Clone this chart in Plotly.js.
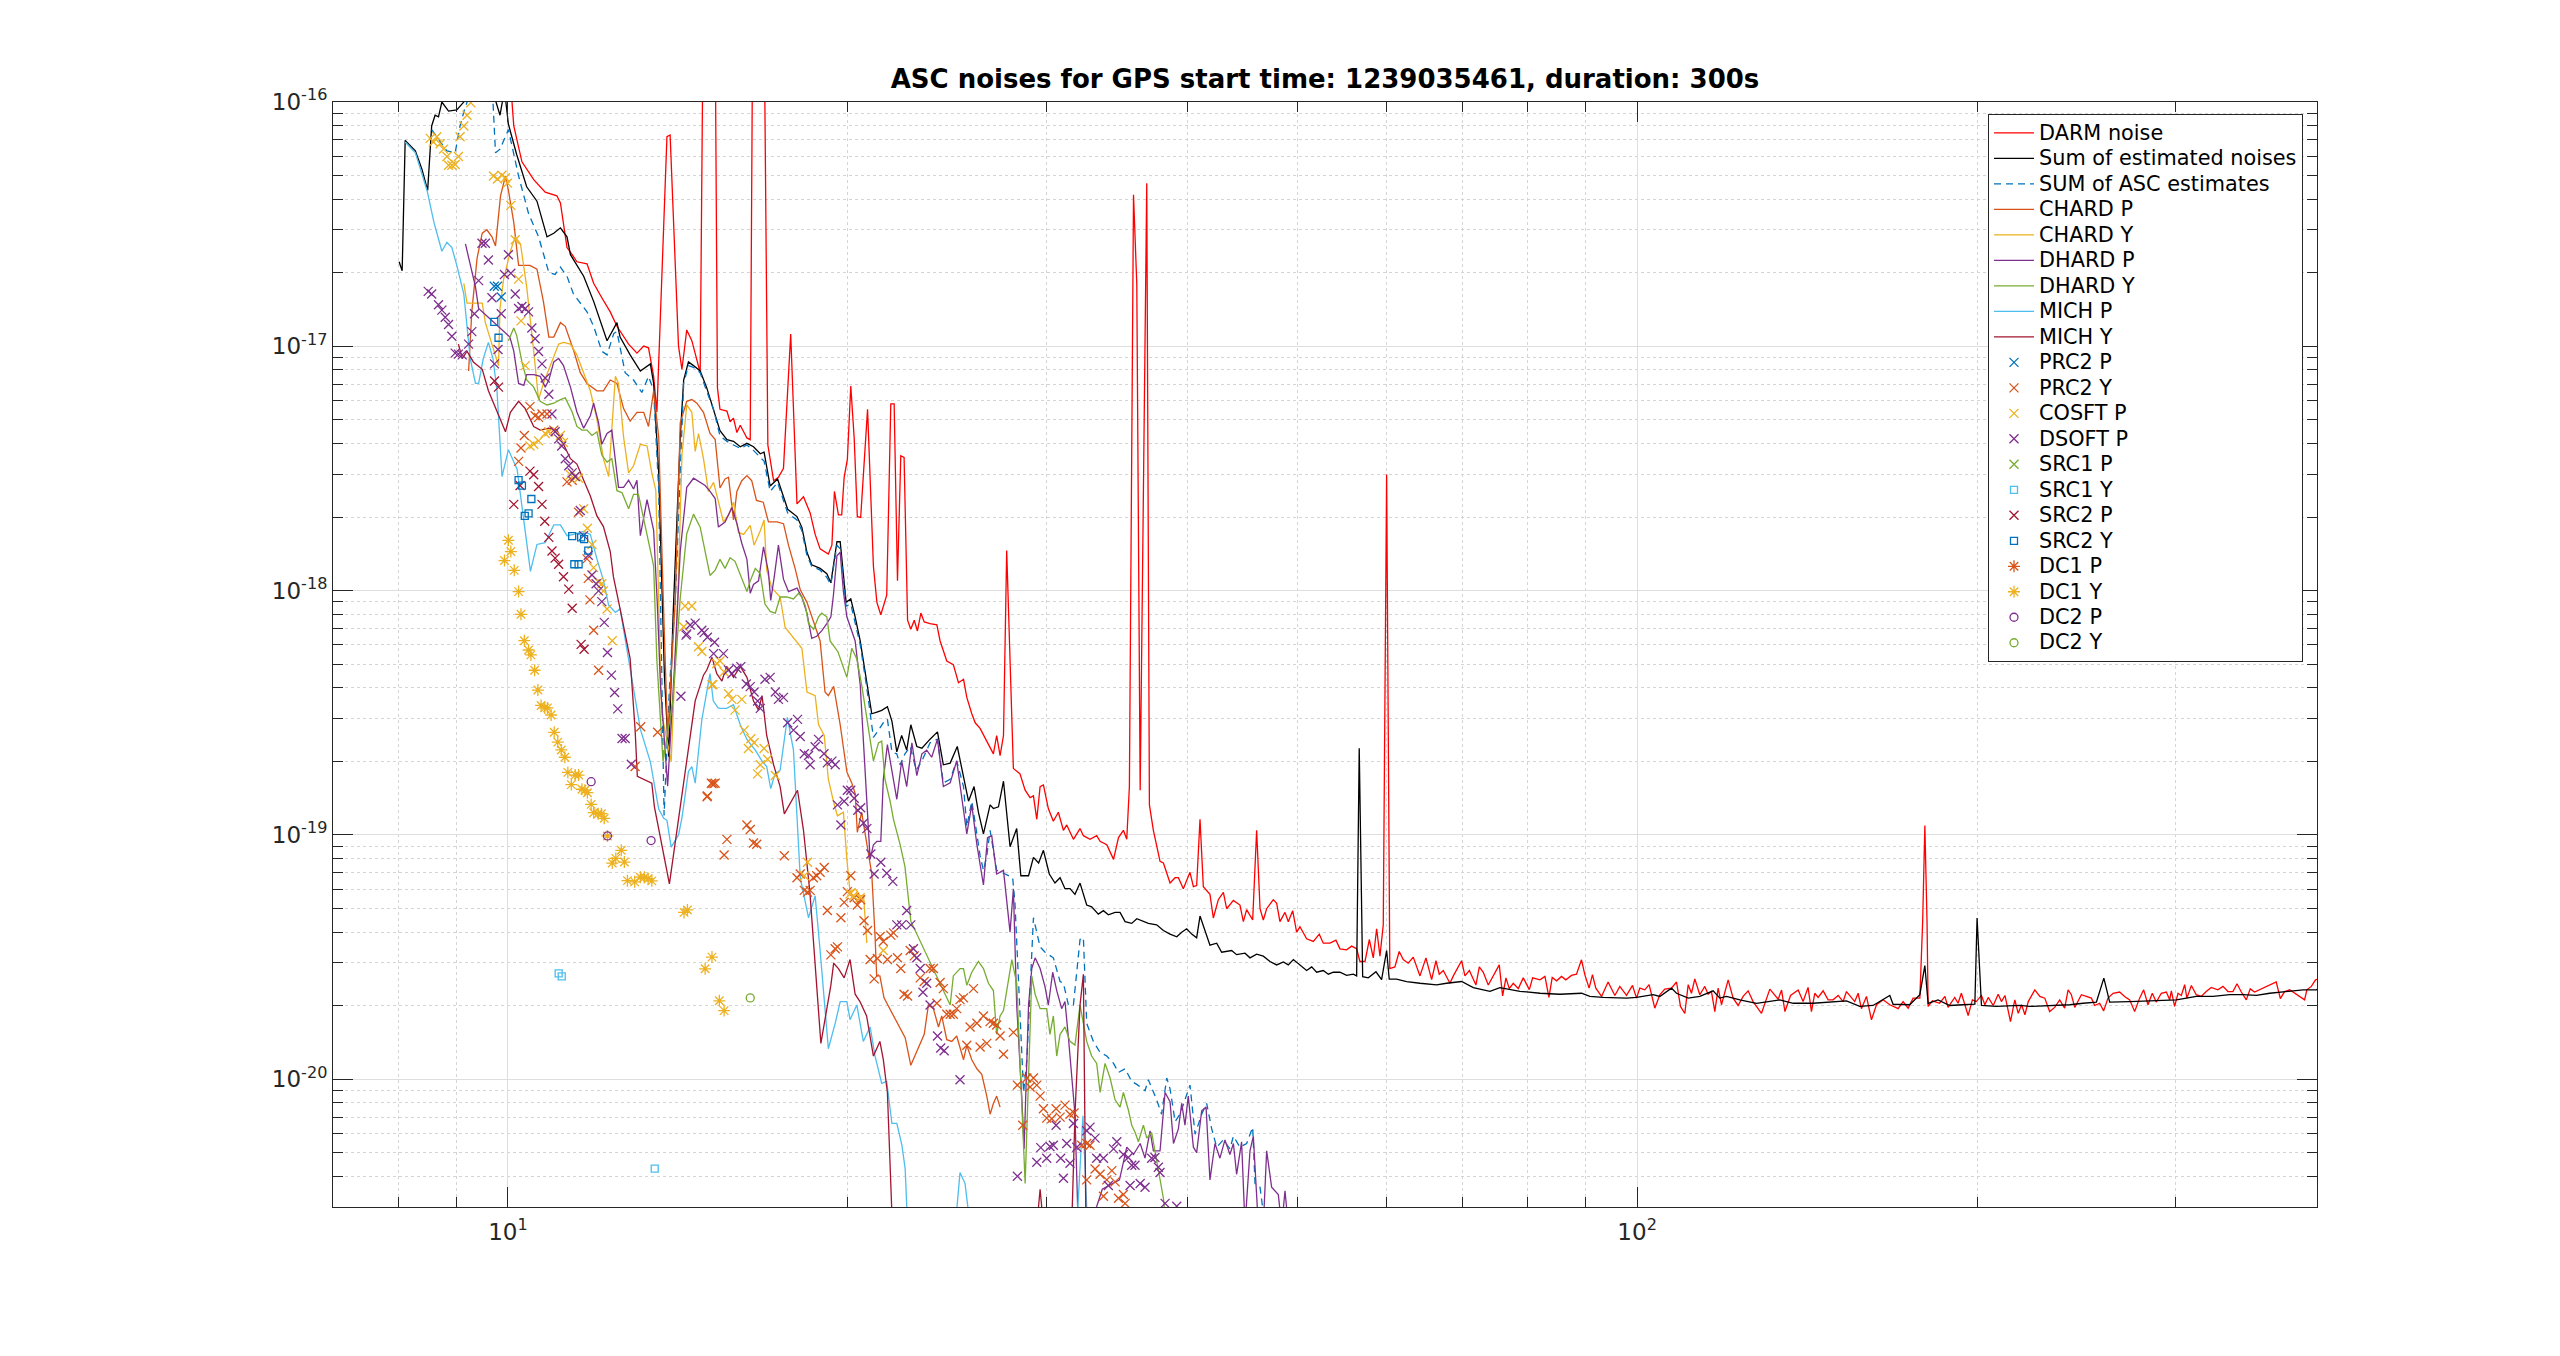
<!DOCTYPE html>
<html>
<head>
<meta charset="utf-8">
<script src="https://cdn.plot.ly/plotly-3.0.1.min.js"></script>
<style>html,body{margin:0;padding:0;background:#fff;}#plot{width:2560px;height:1356px;}</style>
</head>
<body>
<div id="plot"></div>
<script>
// ---- Data: frequency [Hz] and log10 of ASD values ----
const darmF = [9.9,10.12,10.29,10.54,10.79,11.05,11.13,11.28,11.40,11.51,11.75,11.91,12.11,12.32,12.49,12.79,13.01,13.19,13.32,13.46,13.55,13.83,13.92,14.16,14.26,14.40,14.55,14.80,14.90,15.25,15.33,15.41,15.63,15.73,15.84,15.95,16.06,16.28,16.39,16.48,16.85,16.99,17.19,17.36,17.54,17.80,18.03,18.27,18.52,18.71,18.90,19.22,19.36,19.46,19.62,19.75,19.85,19.98,20.12,20.26,20.39,20.53,20.82,21.07,21.22,21.39,21.65,21.83,21.98,22.13,22.28,22.43,22.59,22.74,22.90,23.05,23.21,23.37,23.65,23.98,24.14,24.47,24.80,25.06,25.32,25.49,25.75,25.93,26.19,26.55,26.91,27.09,27.28,27.47,27.65,28.03,28.41,28.71,29.00,29.20,29.40,29.60,29.80,30.10,30.41,30.72,31.04,31.25,31.68,32.11,32.33,32.77,33.22,33.45,33.91,34.38,34.73,35.08,35.32,35.51,35.81,36.05,36.30,36.79,36.99,37.29,37.80,38.06,38.58,38.98,39.24,39.64,40.18,40.46,40.73,41.01,41.29,41.85,42.14,42.57,43.01,43.30,43.90,44.49,44.80,45.10,45.66,46.03,46.35,46.66,46.98,47.62,47.95,48.27,48.77,49.10,49.54,49.94,50.28,50.97,51.67,52.30,52.73,53.45,54.11,54.55,55.30,55.87,56.44,56.82,57.41,57.92,58.39,58.79,59.19,59.59,60.00,60.39,61.02,61.56,62.07,62.70,63.35,64.22,65.01,65.77,66.35,66.80,67.35,68.27,68.74,69.91,70.39,71.02,71.99,72.48,73.07,73.82,75.49,76.01,76.53,77.05,77.68,78.48,79.28,80.26,80.81,82.03,82.86,83.54,84.10,84.85,85.71,86.47,87.47,88.37,89.27,89.88,90.67,91.29,91.92,93.00,94.25,95.56,96.53,97.86,99.06,99.87,100.55,101.57,102.47,103.67,104.73,105.80,107.25,108.36,109.24,110.21,110.97,111.72,112.48,113.63,114.79,115.57,116.36,117.16,117.96,118.77,120.39,121.62,122.87,124.12,125.40,126.67,128.86,131.07,133.32,134.24,135.17,136.73,138.87,140.27,141.70,142.68,143.65,144.63,146.12,147.62,149.12,150.66,152.20,153.25,155.85,156.93,157.98,159.62,161.26,162.91,165.14,167.40,170.27,172.00,173.78,175.54,177.97,179.0,179.8,180.6,181.0,182.6,184.7,185.3,187.3,188.5,191.1,192.4,193.7,195.0,196.4,198.1,199.7,201.8,203.2,204.6,206.7,208.8,210.2,211.7,214.1,216.0,217.5,219.0,220.5,222.0,225.0,227.3,229.6,231.9,234.3,236.7,239.1,240.8,242.4,244.1,247.4,249.9,252.5,254.2,256.8,258.9,261.2,263.9,267.5,270.2,273.0,275.8,278.6,280.9,283.4,285.9,288.2,291.2,294.2,296.2,297.2,299.2,301.3,303.3,305.4,306.8,309.6,312.7,315.9,319.1,322.4,326.8,330.2,333.6,337.0,339.8,342.8,346.3,349.1,352.2,355.8,359.5,363.2,366.9,368.1,371.2,374.4,378.3,382.1,386.0,390.0,391.8,395.4,398.8,401];
const darmV = [-15.5,-16.098,-16.245,-16.318,-16.369,-16.384,-16.413,-16.596,-16.625,-16.654,-16.662,-16.742,-16.801,-16.859,-16.918,-16.991,-17.028,-16.999,-17.006,-17.123,-17.269,-16.142,-16.135,-16.999,-17.094,-16.933,-16.977,-17.108,-15.5,-15.5,-17.17,-17.258,-17.265,-17.309,-17.294,-17.353,-17.323,-17.375,-17.382,-15.5,-15.5,-17.404,-17.55,-17.536,-17.499,-16.95,-17.645,-17.616,-17.682,-17.77,-17.829,-17.85,-17.814,-17.594,-17.69,-17.69,-17.536,-17.463,-17.163,-17.375,-17.697,-17.70,-17.258,-17.90,-18.048,-18.099,-18.019,-17.236,-17.236,-17.96,-17.448,-17.455,-18.121,-18.158,-18.121,-18.165,-18.092,-18.128,-18.135,-18.14,-18.206,-18.288,-18.303,-18.377,-18.363,-18.437,-18.504,-18.541,-18.564,-18.616,-18.668,-18.593,-18.675,-18.593,-17.836,-18.728,-18.75,-18.817,-18.847,-18.84,-18.936,-18.802,-18.795,-18.892,-18.944,-18.907,-18.981,-18.959,-19.018,-18.974,-19.003,-19.018,-19.003,-19.026,-19.04,-19.10,-19.011,-18.981,-19.018,-18.802,-16.38,-16.745,-18.817,-16.333,-18.877,-18.981,-19.108,-19.115,-19.197,-19.175,-19.175,-19.22,-19.153,-19.212,-19.207,-18.936,-19.212,-19.243,-19.34,-19.265,-19.235,-19.302,-19.268,-19.287,-19.355,-19.306,-19.348,-18.981,-19.302,-19.348,-19.302,-19.265,-19.28,-19.355,-19.317,-19.355,-19.31,-19.398,-19.376,-19.425,-19.436,-19.406,-19.443,-19.443,-19.431,-19.466,-19.47,-19.455,-19.466,-19.518,-19.518,-19.428,-19.503,-19.384,-19.496,-19.368,-17.525,-19.547,-19.54,-19.477,-19.51,-19.525,-19.50,-19.577,-19.503,-19.592,-19.515,-19.57,-19.555,-19.607,-19.577,-19.515,-19.577,-19.555,-19.614,-19.54,-19.562,-19.614,-19.532,-19.659,-19.585,-19.629,-19.607,-19.629,-19.585,-19.633,-19.585,-19.593,-19.579,-19.665,-19.583,-19.597,-19.579,-19.593,-19.575,-19.57,-19.511,-19.572,-19.627,-19.572,-19.627,-19.661,-19.602,-19.657,-19.62,-19.657,-19.616,-19.668,-19.627,-19.634,-19.613,-19.709,-19.654,-19.631,-19.627,-19.602,-19.702,-19.731,-19.613,-19.648,-19.589,-19.654,-19.62,-19.652,-19.641,-19.723,-19.627,-19.695,-19.593,-19.668,-19.698,-19.661,-19.638,-19.682,-19.73,-19.631,-19.672,-19.635,-19.723,-19.657,-19.635,-19.682,-19.624,-19.723,-19.648,-19.665,-19.638,-19.675,-19.675,-19.657,-19.682,-19.641,-19.682,-19.648,-19.711,-19.661,-19.757,-19.695,-19.675,-19.695,-19.711,-19.682,-19.709,-19.668,-19.668,-19.354,-18.961,-19.354,-19.702,-19.679,-19.689,-19.689,-19.661,-19.706,-19.665,-19.689,-19.648,-19.689,-19.739,-19.675,-19.682,-19.657,-19.695,-19.665,-19.698,-19.652,-19.682,-19.657,-19.764,-19.675,-19.73,-19.695,-19.736,-19.682,-19.634,-19.661,-19.668,-19.723,-19.706,-19.675,-19.709,-19.634,-19.654,-19.706,-19.654,-19.661,-19.668,-19.698,-19.689,-19.72,-19.668,-19.648,-19.643,-19.661,-19.675,-19.723,-19.668,-19.634,-19.695,-19.648,-19.684,-19.648,-19.643,-19.675,-19.638,-19.702,-19.648,-19.657,-19.613,-19.668,-19.616,-19.654,-19.661,-19.641,-19.624,-19.634,-19.62,-19.641,-19.641,-19.609,-19.643,-19.675,-19.63,-19.643,-19.634,-19.624,-19.613,-19.606,-19.602,-19.67,-19.641,-19.634,-19.648,-19.661,-19.675,-19.634,-19.62,-19.593,-19.59];

const sumF = [8.01,8.06,8.11,8.28,8.39,8.49,8.56,8.62,8.68,8.74,8.86,9.01,9.14,9.45,9.76,9.84,9.93,10.01,10.18,10.39,10.61,10.83,10.98,11.13,11.28,11.36,11.67,11.91,12.24,12.49,12.57,12.83,13.10,13.37,13.46,13.60,13.76,13.88,14.00,14.21,14.31,14.45,14.60,14.80,15.00,15.16,15.41,15.63,15.84,16.06,16.28,16.50,16.73,16.86,17.07,17.33,17.54,17.69,18.03,18.21,18.40,18.58,18.90,19.16,19.32,19.56,19.69,19.93,20.12,20.30,20.51,20.79,21.00,21.22,21.43,21.68,21.88,22.10,22.32,22.55,22.74,23.02,23.26,23.65,24.01,24.30,24.64,25.00,25.32,25.58,25.87,26.10,26.37,26.73,26.91,27.19,27.47,27.84,28.22,28.46,28.91,29.20,29.51,29.80,30.16,30.51,30.83,31.14,31.46,31.78,32.11,32.55,32.88,33.33,33.68,34.02,34.49,34.84,35.20,35.68,36.05,36.54,36.91,37.54,38.06,38.58,39.11,39.51,39.91,40.32,40.73,41.01,41.43,41.85,42.43,42.86,43.74,44.19,44.95,45.41,46.03,46.66,47.30,47.95,48.61,49.10,49.61,50.28,50.97,51.50,52.02,52.73,53.28,53.82,54.55,55.30,56.06,56.44,56.74,57.14,57.80,58.71,59.39,60.00,60.32,61.23,62.49,64.22,66.44,67.80,69.91,71.60,74.07,75.59,77.15,78.75,82.03,85.42,89.27,90.80,93.30,97.85,99.87,103.32,104.73,107.25,108.36,110.97,113.63,116.76,118.36,119.98,123.30,127.56,133.77,137.46,143.18,149.12,153.25,157.44,161.78,167.40,168.52,174.33,177.97,179.80,181.00,184.70,189.2,194.4,199.1,200.0,201.8,208.0,218.2,222.7,231.9,241.6,248.3,255.1,259.0,262.1,273.0,284.4,292.2,300.3,306.5,312.7,323.6,334.8,344.0,353.5,363.2,373.3,383.5,388.8,399.4,401];
const sumV = [-16.654,-16.691,-16.157,-16.2,-16.274,-16.362,-16.098,-16.054,-16.061,-16.0,-16.037,-16.032,-16.0,-15.85,-16.0,-16.054,-15.95,-16.091,-16.215,-16.347,-16.406,-16.552,-16.537,-16.515,-16.552,-16.625,-16.713,-16.816,-16.977,-16.903,-16.962,-17.035,-17.101,-17.072,-17.152,-17.518,-18.35,-18.68,-18.12,-17.372,-17.138,-17.064,-17.079,-17.101,-17.17,-17.236,-17.345,-17.382,-17.389,-17.411,-17.397,-17.411,-17.44,-17.433,-17.572,-17.543,-17.616,-17.667,-17.697,-17.741,-17.843,-17.894,-17.909,-17.931,-17.968,-17.80,-17.80,-18.048,-18.034,-18.107,-18.206,-18.384,-18.504,-18.497,-18.49,-18.475,-18.534,-18.66,-18.593,-18.653,-18.549,-18.638,-18.645,-18.608,-18.578,-18.713,-18.706,-18.638,-18.757,-18.862,-18.802,-18.907,-18.996,-18.877,-18.892,-18.885,-18.78,-19.048,-18.974,-19.167,-19.167,-19.092,-19.115,-19.063,-19.16,-19.197,-19.175,-19.22,-19.22,-19.243,-19.197,-19.287,-19.294,-19.324,-19.31,-19.327,-19.317,-19.317,-19.355,-19.362,-19.343,-19.355,-19.362,-19.368,-19.391,-19.406,-19.417,-19.398,-19.384,-19.406,-19.421,-19.332,-19.391,-19.451,-19.443,-19.48,-19.473,-19.49,-19.484,-19.503,-19.488,-19.496,-19.518,-19.532,-19.52,-19.532,-19.51,-19.532,-19.555,-19.54,-19.562,-19.555,-19.57,-19.562,-19.562,-19.575,-19.57,-19.577,-18.645,-19.58,-19.585,-19.56,-19.592,-19.473,-19.59,-19.59,-19.60,-19.607,-19.614,-19.607,-19.60,-19.625,-19.64,-19.625,-19.633,-19.64,-19.648,-19.652,-19.648,-19.661,-19.665,-19.668,-19.665,-19.654,-19.661,-19.627,-19.648,-19.668,-19.661,-19.638,-19.668,-19.661,-19.675,-19.689,-19.675,-19.689,-19.689,-19.682,-19.679,-19.702,-19.698,-19.657,-19.693,-19.695,-19.654,-19.535,-19.689,-19.675,-19.698,-19.695,-19.693,-19.34,-19.698,-19.702,-19.698,-19.702,-19.698,-19.695,-19.689,-19.684,-19.586,-19.684,-19.682,-19.679,-19.679,-19.675,-19.668,-19.661,-19.661,-19.654,-19.654,-19.657,-19.648,-19.643,-19.638,-19.634,-19.634,-19.63];

const ascF = [8.56,8.65,8.83,8.98,9.07,9.14,9.20,9.45,9.70,9.75,9.84,10.01,10.22,10.43,10.645,10.87,11.01,11.13,11.28,11.43,11.75,11.91,12.11,12.24,12.41,12.49,12.70,12.92,13.14,13.32,13.46,13.60,13.75,13.90,14.07,14.31,14.45,14.60,14.80,15.00,15.21,15.41,15.63,15.84,16.06,16.28,16.50,16.73,16.86,17.07,17.33,17.54,17.69,18.03,18.21,18.40,18.58,18.90,19.16,19.32,19.56,19.69,19.93,20.12,20.30,20.51,20.79,21.07,21.29,21.50,21.68,21.88,22.10,22.25,22.47,22.71,22.99,23.26,23.65,24.01,24.30,24.64,24.97,25.32,25.49,25.75,25.93,26.19,26.37,26.55,26.73,26.91,27.09,27.37,27.99,28.12,28.41,28.62,28.81,29.00,29.20,29.60,29.90,30.41,30.83,31.04,31.36,31.68,32.11,32.33,32.55,33.00,33.45,33.91,34.38,34.73,35.20,35.68,36.05,36.66,36.91,37.54,37.92,38.32,38.58,38.98,39.37,39.77,40.18,40.60,41.15,41.57,42.00,42.43,43.01,43.59,43.90,44.49,45.10,45.66,45.88,46.35,46.82];
const ascV = [-16.113,-16.142,-16.2,-16.208,-16.098,-16.04,-16.0,-15.9,-16.0,-16.208,-16.193,-16.113,-16.303,-16.457,-16.552,-16.698,-16.706,-16.676,-16.713,-16.786,-16.859,-16.918,-17.02,-17.035,-16.947,-16.94,-17.108,-17.138,-17.189,-17.123,-17.18,-17.59,-18.92,-18.4,-18.03,-17.152,-17.079,-17.086,-17.108,-17.185,-17.258,-17.367,-17.389,-17.404,-17.418,-17.404,-17.426,-17.455,-17.47,-17.594,-17.557,-17.631,-17.682,-17.711,-17.755,-17.857,-17.90,-17.916,-17.946,-17.975,-17.814,-17.829,-18.063,-18.055,-18.135,-18.221,-18.399,-18.601,-18.571,-18.541,-18.526,-18.66,-18.668,-18.713,-18.668,-18.638,-18.735,-18.697,-18.623,-18.608,-18.787,-18.772,-18.697,-18.802,-18.966,-18.862,-18.951,-19.085,-19.145,-19.085,-18.981,-19.07,-19.145,-19.153,-19.175,-19.279,-19.696,-20.054,-19.92,-19.622,-19.339,-19.458,-19.48,-19.503,-19.60,-19.607,-19.696,-19.696,-19.428,-19.42,-19.771,-19.846,-19.89,-19.905,-19.935,-19.972,-19.957,-20.009,-20.021,-20.047,-20.002,-20.084,-20.143,-19.995,-20.039,-20.173,-20.143,-20.084,-20.024,-20.225,-20.143,-20.099,-20.203,-20.278,-20.248,-20.285,-20.233,-20.278,-20.263,-20.196,-20.427,-20.442,-20.6];

const chardPF = [9.23,9.29,9.39,9.49,9.58,9.68,9.75,9.85,9.95,10.01,10.12,10.22,10.33,10.46,10.61,10.75,10.87,10.98,11.13,11.24,11.44,11.59,11.75,11.99,12.15,12.32,12.49,12.66,12.83,13.01,13.19,13.32,13.46,13.60,13.72,13.85,14.07,14.21,14.40,14.55,14.70,14.90,15.10,15.26,15.41,15.57,15.68,15.84,15.95,16.11,16.28,16.44,16.60,16.83,17.01,17.31,17.54,17.72,17.96,18.15,18.40,18.64,18.90,19.09,19.22,19.43,19.69,19.96,20.16,20.30,20.39,20.57,20.78,21.00,21.14,21.21,21.35,21.53,22.48,22.74,23.37,23.57,23.81,24.06,24.22,24.47,24.72,24.97,25.32,25.49,25.75,26.02,26.28,26.55,26.73,26.91,27.09,27.28];
const chardPV = [-17.101,-16.859,-16.64,-16.537,-16.523,-16.552,-16.589,-16.384,-16.303,-16.362,-16.493,-16.669,-16.669,-16.669,-16.684,-16.816,-16.962,-16.962,-16.903,-16.918,-17.02,-17.108,-17.152,-17.182,-17.182,-17.138,-17.152,-17.255,-17.306,-17.27,-17.27,-17.328,-17.182,-17.372,-18.0,-18.6,-18.03,-17.313,-17.225,-17.218,-17.233,-17.27,-17.357,-17.382,-17.58,-17.543,-17.536,-17.711,-17.594,-17.55,-17.529,-17.55,-17.631,-17.638,-17.719,-17.719,-17.726,-17.814,-17.909,-17.997,-18.048,-18.121,-18.206,-18.415,-18.43,-18.392,-18.549,-18.742,-18.787,-18.83,-18.989,-18.907,-19.04,-19.16,-19.413,-19.577,-19.577,-19.667,-19.83,-19.943,-19.816,-19.696,-19.711,-19.786,-19.741,-19.838,-19.845,-19.823,-19.92,-19.861,-19.92,-19.957,-19.98,-20.069,-20.143,-20.099,-20.069,-20.114];

const chardYF = [9.14,9.20,9.32,9.49,9.55,9.81,9.84,9.91,10.05,10.15,10.26,10.39,10.54,10.645,10.75,10.90,11.09,11.20,11.36,11.51,11.67,11.83,11.99,12.15,12.28,12.45,12.53,12.66,12.79,12.92,13.10,13.28,13.41,13.52,13.68,13.95,14.16,14.26,14.40,14.55,14.65,14.75,14.90,15.05,15.21,15.36,15.52,15.68,15.84,16.00,16.17,16.39,16.52,16.73,16.86,16.95,17.13,17.42,17.60,18.21,18.40,18.71,18.84,19.06,19.22,19.42,19.58,19.82,19.96,20.09,20.30,20.51,20.65,20.79];
const chardYV = [-16.742,-16.823,-16.823,-16.823,-16.903,-17.079,-16.845,-16.728,-16.611,-16.552,-16.581,-16.757,-17.02,-17.218,-17.152,-17.079,-16.991,-16.984,-16.991,-17.035,-17.108,-17.182,-17.299,-17.46,-17.533,-17.123,-17.152,-17.372,-17.518,-17.489,-17.401,-17.408,-17.518,-17.59,-18.5,-18.7,-17.943,-17.445,-17.24,-17.27,-17.43,-17.357,-17.46,-17.594,-17.557,-17.638,-17.719,-17.69,-17.638,-17.762,-17.77,-17.733,-17.814,-17.755,-17.711,-17.916,-17.989,-18.026,-18.151,-18.236,-18.415,-18.43,-18.549,-18.593,-18.772,-18.862,-18.922,-18.907,-19.10,-19.234,-19.22,-19.249,-19.249,-19.443];

const dhardPF = [9.17,9.26,9.36,9.42,10.04,10.12,10.22,10.33,10.39,10.54,10.68,10.79,10.87,10.98,11.09,11.20,11.36,11.51,11.67,11.83,11.91,12.03,12.11,12.24,12.36,12.53,12.66,12.79,12.92,13.01,13.10,13.28,13.46,13.56,13.65,13.85,14.05,14.21,14.40,14.60,14.80,14.95,15.10,15.26,15.36,15.57,15.79,15.95,16.11,16.28,16.39,16.50,16.67,16.84,17.01,17.09,17.21,17.36,17.54,17.72,18.03,18.21,18.40,18.58,18.77,18.96,19.16,19.32,19.42,19.56,19.69,19.82,19.96,20.16,20.30,20.51,20.72,20.93,21.07,21.22,21.39,21.50,21.68,21.88,22.10,22.32,22.55,22.79,23.02,23.26,23.49,23.73,24.01,24.30,24.64,24.97,25.23,25.49,25.75,26.02,26.37,26.59,26.82,27.09,27.47,27.84,28.03,28.22,28.51,28.65,28.91,29.10,29.30,29.60,29.90,30.10,30.37,30.62,30.93,31.14,31.36,31.57,31.78,31.99,32.8,33.6,34.8,35.32,35.81,36.30,36.66,37.04,37.29,37.80,38.19,38.58,38.85,39.24,39.51,39.77,40.04,40.46,40.73,41.15,41.52,41.85,42.28,42.71,43.15,43.59,43.90,44.19,44.64,44.95,45.41,45.72,46.19,46.66,46.98,47.46,48.11,48.44,48.77,49.10];
const dhardPV = [-16.581,-16.669,-16.757,-16.845,-16.962,-17.02,-17.152,-17.16,-17.116,-17.116,-17.123,-17.167,-17.138,-17.064,-17.05,-17.079,-17.167,-17.269,-17.335,-17.284,-17.233,-17.313,-17.401,-17.357,-17.343,-17.577,-17.577,-17.548,-17.584,-17.548,-17.775,-17.628,-17.753,-18.05,-18.39,-18.8,-18.3,-17.84,-17.577,-17.54,-17.557,-17.57,-17.594,-17.623,-17.74,-17.719,-17.66,-17.726,-17.806,-17.872,-18.011,-17.975,-17.96,-17.821,-17.924,-18.04,-17.946,-17.814,-17.953,-18.004,-17.99,-18.026,-18.092,-18.195,-18.187,-18.165,-18.135,-18.107,-18.019,-17.857,-17.843,-18.004,-18.107,-18.165,-18.206,-18.385,-18.772,-19.10,-19.04,-19.026,-19.026,-18.772,-18.63,-18.742,-18.854,-18.697,-18.802,-18.623,-18.757,-18.668,-18.653,-18.682,-18.608,-18.802,-18.787,-18.697,-18.847,-18.996,-18.877,-19.04,-19.205,-19.011,-19.003,-19.16,-19.145,-19.398,-19.22,-19.696,-20.069,-20.285,-19.696,-19.547,-19.503,-19.547,-19.622,-19.696,-19.562,-19.637,-19.711,-19.682,-19.83,-19.995,-20.143,-20.6,-20.6,-20.45,-20.412,-20.278,-20.308,-20.263,-20.323,-20.211,-20.293,-20.293,-20.054,-20.092,-20.263,-20.203,-20.099,-20.188,-20.069,-20.278,-20.30,-20.129,-20.114,-20.412,-20.263,-20.323,-20.248,-20.308,-20.263,-20.389,-20.256,-20.6,-20.293,-20.233,-20.6,-20.6,-20.293,-20.442,-20.472,-20.6,-20.457,-20.6];

const dhardYF = [10.01,10.12,10.18,10.29,10.39,10.54,10.68,10.83,10.98,11.13,11.24,11.40,11.51,11.63,11.75,11.87,11.99,12.11,12.24,12.36,12.49,12.62,12.79,12.92,13.05,13.19,13.32,13.46,13.55,13.72,14.00,14.21,14.40,14.60,14.80,14.95,15.10,15.26,15.41,15.57,15.73,15.89,16.11,16.28,16.39,16.56,16.73,16.89,17.07,17.25,17.42,17.66,17.90,18.09,18.21,18.34,18.46,18.65,18.84,18.96,19.16,19.29,19.60,19.96,20.16,20.37,20.57,20.79,21.07,21.29,21.43,21.57,21.80,21.95,22.25,22.47,22.63,22.74,24.64,24.80,25.14,25.32,25.49,25.75,26.10,26.37,26.64,26.91,27.09,27.28,27.47,27.94,28.22,28.71,28.91,29.10,29.30,29.60,30.00,30.20,30.41,30.62,30.83,31.14,31.46,31.78,32.11,32.55,32.88,33.22,33.45,33.79,34.14,34.49,34.84,35.08,35.45,35.68,35.93,36.17,36.54,36.79,37.16,37.41,37.67,38.06,38.27];
const dhardYV = [-16.977,-16.925,-16.955,-17.064,-17.138,-17.167,-17.225,-17.24,-17.233,-17.218,-17.211,-17.269,-17.328,-17.343,-17.343,-17.365,-17.35,-17.445,-17.474,-17.46,-17.591,-17.599,-17.665,-17.606,-17.606,-17.709,-17.796,-17.899,-18.29,-18.7,-18.45,-18.03,-17.767,-17.687,-17.74,-17.843,-17.938,-17.916,-17.872,-17.909,-17.865,-17.88,-17.946,-18.004,-17.96,-17.909,-17.931,-18.055,-18.085,-18.092,-18.026,-18.026,-18.034,-18.011,-18.026,-18.063,-18.135,-18.158,-18.107,-18.092,-18.107,-18.206,-18.25,-18.355,-18.236,-18.28,-18.385,-18.519,-18.697,-18.623,-18.616,-18.772,-18.862,-18.936,-19.04,-19.13,-19.249,-19.353,-19.696,-19.577,-19.547,-19.547,-19.615,-19.562,-19.518,-19.547,-19.607,-19.637,-19.816,-19.741,-19.719,-19.51,-19.607,-20.427,-19.995,-19.577,-19.652,-19.711,-19.711,-19.816,-19.741,-19.905,-19.816,-19.786,-19.845,-19.86,-19.696,-19.845,-19.905,-19.935,-20.054,-19.935,-19.995,-20.084,-20.114,-20.054,-20.129,-20.188,-20.218,-20.256,-20.188,-20.241,-20.218,-20.293,-20.382,-20.487,-20.6];

const michPF = [8.11,8.28,8.48,8.60,8.74,8.83,8.92,9.01,9.14,9.26,9.36,9.42,9.51,9.61,9.70,9.78,9.88,10.01,10.19,10.31,10.47,10.61,10.79,10.98,11.13,11.28,11.44,11.67,11.83,11.99,12.15,12.28,12.45,12.57,12.63,12.92,13.10,13.37,13.60,13.74,13.83,13.95,14.16,14.26,14.45,14.55,14.65,14.85,15.10,15.20,15.35,15.41,15.62,15.84,16.06,16.28,16.56,16.79,16.95,17.09,17.24,17.42,17.68,17.90,18.15,18.46,18.71,18.90,19.22,19.49,19.69,19.96,20.09,20.37,20.64,20.93,21.14,21.43,21.65,21.88,22.10,22.33,22.48,22.59,24.9,25.14,25.40,25.66,31.9,32.3,32.6];
const michPV = [-16.164,-16.208,-16.362,-16.493,-16.611,-16.574,-16.596,-16.669,-16.786,-17.05,-17.152,-17.152,-17.05,-16.984,-17.05,-17.182,-17.533,-17.423,-17.504,-17.694,-17.921,-17.811,-17.804,-17.731,-17.731,-17.775,-17.77,-17.758,-17.77,-17.87,-17.958,-18.06,-18.089,-18.075,-18.133,-18.413,-18.567,-18.701,-18.894,-18.932,-18.94,-19.05,-19.0,-18.93,-18.74,-18.72,-18.788,-18.528,-18.34,-18.451,-18.48,-18.482,-18.482,-18.467,-18.549,-18.609,-18.653,-18.698,-18.72,-18.81,-18.75,-18.735,-18.519,-18.653,-19.175,-19.339,-19.249,-19.473,-19.875,-19.771,-19.682,-19.682,-19.756,-19.696,-19.845,-19.786,-19.905,-20.017,-20.009,-20.181,-20.181,-20.27,-20.367,-20.6,-20.6,-20.382,-20.427,-20.6,-20.6,-20.15,-20.6];

const michYF = [9.04,9.11,9.20,9.32,9.49,9.61,9.95,10.05,10.22,10.36,10.54,10.68,10.87,11.05,11.20,11.36,11.51,11.67,11.83,11.99,12.15,12.32,12.40,12.57,12.83,12.96,13.02,13.41,13.48,13.90,14.30,14.50,14.65,14.90,15.00,15.16,15.31,15.47,15.62,15.84,16.06,16.28,16.50,16.67,16.79,16.95,17.19,17.42,17.57,18.05,18.27,18.51,18.71,18.93,19.32,19.43,19.62,19.85,20.09,20.30,20.50,20.78,21.07,21.35,21.50,21.68,21.90,29.40,29.60,29.80,31.57,31.79,32.11,32.33,32.50];
const michYV = [-16.991,-17.05,-17.02,-17.064,-17.094,-17.182,-17.35,-17.27,-17.225,-17.255,-17.328,-17.343,-17.335,-17.343,-17.401,-17.46,-17.482,-17.548,-17.613,-17.694,-17.738,-17.84,-17.943,-18.075,-18.278,-18.567,-18.76,-18.788,-18.884,-19.2,-18.8,-18.586,-18.451,-18.346,-18.325,-18.273,-18.34,-18.37,-18.31,-18.355,-18.31,-18.355,-18.452,-18.489,-18.43,-18.593,-18.713,-18.802,-18.914,-18.817,-18.981,-19.234,-19.518,-19.853,-19.615,-19.525,-19.547,-19.585,-19.51,-19.652,-19.682,-19.741,-19.905,-19.845,-19.92,-20.054,-20.6,-20.6,-20.45,-20.6,-20.6,-20.129,-19.696,-19.57,-20.6];

// ---- Marker-only series ----
const prc2PF = [9.726,9.79,9.865];
const prc2PV = [-16.754,-16.754,-16.798];

const prc2YF = [10.46,10.57,10.645,10.72,10.83,10.98,10.34,10.27,10.22,11.28,11.40,11.55,11.75,11.78,11.82,11.91,12.03,12.96,13.11,13.57,15.02,15.14,15.26,15.01,15.16,15.22,15.54,15.63,16.28,16.39,16.50,16.61,17.57,18.03,18.15,18.30,18.42,18.52,18.64,18.77,18.90,19.06,19.18,19.32,19.49,19.58,19.72,19.85,19.98,20.12,20.26,20.39,20.53,20.67,20.82,20.93,21.10,21.24,21.36,21.50,21.68,21.83,21.95,22.13,22.28,22.43,22.59,22.71,22.90,23.18,23.37,23.65,23.81,23.98,24.14,24.30,24.47,24.64,24.80,24.97,25.14,25.32,25.49,25.66,25.84,26.02,26.19,26.37,26.55,26.73,26.91,27.09,27.28,27.47,28.03,28.26,28.57,28.81,29.00,29.20,29.40,29.60,29.80,30.00,30.31,30.58,30.83,31.14,31.46,31.72,32.22,32.55,32.77,32.55,33.11,33.45,33.68,33.91,34.26,34.49,34.73,35.08,35.20];
const prc2YV = [-17.247,-17.284,-17.291,-17.277,-17.277,-17.343,-17.365,-17.416,-17.471,-17.555,-17.548,-17.679,-17.87,-17.95,-18.038,-18.162,-18.326,-18.72,-18.557,-18.58,-18.84,-18.788,-18.788,-18.844,-18.79,-18.79,-19.082,-19.018,-18.959,-18.978,-19.033,-19.038,-19.085,-19.175,-19.16,-19.227,-19.234,-19.227,-19.175,-19.167,-19.153,-19.133,-19.309,-19.491,-19.466,-19.458,-19.339,-19.276,-19.232,-19.167,-19.257,-19.287,-19.265,-19.351,-19.391,-19.51,-19.589,-19.506,-19.416,-19.436,-19.51,-19.41,-19.401,-19.503,-19.547,-19.652,-19.659,-19.473,-19.495,-19.585,-19.60,-19.547,-19.547,-19.689,-19.604,-19.629,-19.734,-19.734,-19.734,-19.711,-19.674,-19.667,-19.861,-19.786,-19.629,-19.771,-19.868,-19.741,-19.853,-19.764,-19.771,-19.778,-19.823,-19.898,-19.808,-20.024,-20.188,-19.995,-20.032,-19.995,-20.024,-20.069,-20.121,-20.159,-20.162,-20.121,-20.155,-20.106,-20.143,-20.138,-20.27,-20.263,-20.27,-20.412,-20.367,-20.389,-20.479,-20.412,-20.374,-20.42,-20.487,-20.472,-20.508];

const cosftPF = [8.535,8.59,8.65,8.71,8.77,8.83,8.86,8.92,8.98,9.04,9.07,9.14,9.20,9.27,9.71,9.79,9.88,9.95,9.99,10.06,10.15,10.22,10.27,10.36,10.46,10.54,10.645,10.79,10.87,11.13,11.20,11.36,11.47,11.55,11.67,11.76,11.87,11.91,12.03,12.11,12.15,12.24,12.37,14.31,14.35,14.55,14.75,14.85,15.19,15.31,15.16,15.41,15.54,15.68,15.79,15.89,16.11,16.19,16.33,16.41,16.52,16.64,16.73,16.86,16.98,17.25,18.30,18.42,20.09,20.23,20.51,21.50];
const cosftPV = [-16.149,-16.164,-16.142,-16.171,-16.193,-16.223,-16.259,-16.259,-16.256,-16.223,-16.142,-16.098,-16.054,-16.003,-16.303,-16.315,-16.30,-16.31,-16.332,-16.423,-16.564,-16.725,-16.896,-17.079,-17.408,-17.401,-17.387,-17.357,-17.35,-17.365,-17.394,-17.526,-17.533,-17.54,-17.665,-17.745,-17.811,-17.906,-17.965,-17.972,-18.001,-18.075,-18.205,-18.148,-18.063,-18.063,-18.23,-18.249,-18.384,-18.298,-18.385,-18.288,-18.333,-18.422,-18.445,-18.489,-18.445,-18.571,-18.646,-18.606,-18.623,-18.75,-18.713,-18.646,-18.69,-18.757,-19.167,-19.112,-19.242,-19.249,-19.257,-19.473];

const dsoftPF = [8.50,8.56,8.68,8.74,8.80,8.86,8.92,8.98,9.04,9.11,9.23,9.29,9.34,9.42,9.485,9.55,9.61,9.68,9.73,9.80,9.865,9.93,10.01,10.06,10.15,10.22,10.29,10.36,10.43,10.50,10.57,10.645,10.72,10.79,10.87,10.94,11.01,11.09,11.16,11.24,11.32,11.40,11.47,11.59,11.67,11.78,11.87,11.97,12.03,12.11,12.17,12.25,12.35,12.43,12.51,12.62,12.70,12.86,14.23,14.38,14.40,14.50,14.65,14.85,14.92,15.02,15.24,15.21,15.52,15.68,15.79,15.95,16.08,16.26,16.39,16.52,16.64,16.73,16.89,17.07,17.25,17.36,17.54,17.69,17.90,18.05,18.15,18.30,18.46,18.52,18.71,18.84,19.05,19.18,19.36,19.49,19.58,19.72,19.85,19.98,20.12,20.26,20.41,20.53,20.65,20.79,20.96,21.10,21.39,21.65,21.92,22.10,22.32,22.55,22.74,22.86,23.02,23.18,23.31,23.49,23.65,24.01,24.17,24.34,25.14,28.26,29.40,29.64,30.00,30.20,30.41,30.58,30.87,31.04,31.25,31.46,31.68,31.90,32.55,32.77,33.11,33.22,33.68,34.02,34.38,34.61,35.08,35.43,35.68,35.92,35.56,36.30,36.66,37.16,37.41,37.67,37.80,38.19,39.11];
const dsoftPV = [-16.775,-16.786,-16.83,-16.852,-16.881,-16.911,-16.959,-17.028,-17.032,-17.035,-16.991,-16.94,-16.867,-16.731,-16.578,-16.578,-16.647,-16.801,-17.072,-17.013,-16.867,-16.706,-16.625,-16.701,-16.786,-16.845,-16.837,-16.845,-16.859,-16.925,-16.969,-17.021,-17.072,-17.13,-17.196,-17.277,-17.35,-17.379,-17.408,-17.46,-17.489,-17.518,-17.533,-17.672,-17.775,-17.855,-17.936,-17.972,-18.001,-18.045,-18.13,-18.253,-18.346,-18.417,-18.484,-18.605,-18.605,-18.711,-18.432,-18.182,-18.177,-18.141,-18.133,-18.162,-18.172,-18.191,-18.211,-18.258,-18.258,-18.325,-18.34,-18.318,-18.311,-18.382,-18.393,-18.415,-18.452,-18.482,-18.363,-18.355,-18.415,-18.445,-18.437,-18.541,-18.571,-18.527,-18.597,-18.668,-18.675,-18.713,-18.639,-18.609,-18.668,-18.705,-18.698,-18.713,-18.877,-18.959,-18.862,-18.817,-18.817,-18.85,-18.899,-18.889,-18.951,-18.974,-19.078,-19.16,-19.112,-19.157,-19.19,-19.368,-19.368,-19.309,-19.368,-19.466,-19.503,-19.547,-19.644,-19.607,-19.696,-19.823,-19.872,-19.883,-20.002,-20.397,-20.34,-20.28,-20.323,-20.275,-20.27,-20.188,-20.323,-20.405,-20.263,-20.344,-20.181,-20.278,-20.211,-20.196,-20.241,-20.323,-20.323,-20.435,-20.285,-20.256,-20.308,-20.32,-20.352,-20.352,-20.435,-20.427,-20.442,-20.323,-20.32,-20.36,-20.382,-20.508,-20.52];

const src1PF = [];
const src1PV = [];

const src1YF = [11.09,11.16,13.49];
const src1YV = [-19.567,-19.579,-20.366];

const src2PF = [9.73,9.81,10.12,10.25,10.46,10.54,10.645,10.72,10.78,10.87,10.94,11.01,11.09,11.20,11.32,11.40,11.61,11.68];
const src2PV = [-17.142,-17.167,-17.647,-17.57,-17.511,-17.526,-17.574,-17.647,-17.716,-17.782,-17.838,-17.867,-17.892,-17.943,-17.994,-18.072,-18.22,-18.24];

const src2YF = [9.726,9.81,10.22,10.29,10.49,10.35,10.43,11.40,11.61,11.68,11.78,11.45,11.55];
const src2YV = [-16.90,-16.965,-17.548,-17.57,-17.625,-17.694,-17.684,-17.777,-17.782,-17.789,-17.836,-17.892,-17.892];

const dc1PF = [];
const dc1PV = [];

const dc1YF = [10.01,10.06,9.93,10.13,10.22,10.27,10.34,10.43,10.48,10.56,10.63,10.70,10.78,10.84,10.92,10.99,11.07,11.15,11.23,11.30,11.38,11.47,11.55,11.63,11.70,11.76,11.85,11.91,12.02,12.10,12.17,12.25,12.37,12.46,12.60,12.68,12.76,12.95,13.10,13.21,13.31,13.41,14.32,14.42,14.95,15.16,15.39,15.54];
const dc1YV = [-17.794,-17.84,-17.877,-17.917,-18.004,-18.097,-18.205,-18.243,-18.263,-18.326,-18.407,-18.47,-18.48,-18.48,-18.509,-18.58,-18.62,-18.652,-18.682,-18.744,-18.794,-18.755,-18.755,-18.813,-18.817,-18.827,-18.875,-18.909,-18.913,-18.913,-18.932,-19.004,-19.115,-19.096,-19.063,-19.111,-19.187,-19.192,-19.173,-19.173,-19.179,-19.188,-19.317,-19.307,-19.548,-19.50,-19.679,-19.719];

const dc2PF = [11.85,12.25,13.39];
const dc2PV = [-18.782,-19.004,-19.023];

const dc2YF = [16.39];
const dc2YV = [-19.667];

// ---- Axis ticks ----
const xMajor = [10, 100];
const xMajorText = ['10<sup>1</sup>', '10<sup>2</sup>'];
const xMinor = [7, 8, 9, 20, 30, 40, 50, 60, 70, 80, 90, 200, 300, 400];
const yMajor = [1e-20, 1e-19, 1e-18, 1e-17, 1e-16];
const yMajorText = ['10<sup>-20</sup>', '10<sup>-19</sup>', '10<sup>-18</sup>', '10<sup>-17</sup>', '10<sup>-16</sup>'];
const yMinor = [3e-21,4e-21,5e-21,6e-21,7e-21,8e-21,9e-21,
  2e-20,3e-20,4e-20,5e-20,6e-20,7e-20,8e-20,9e-20,
  2e-19,3e-19,4e-19,5e-19,6e-19,7e-19,8e-19,9e-19,
  2e-18,3e-18,4e-18,5e-18,6e-18,7e-18,8e-18,9e-18,
  2e-17,3e-17,4e-17,5e-17,6e-17,7e-17,8e-17,9e-17];

const C = {blue:'#0072BD', orange:'#D95319', yellow:'#EDB120', purple:'#7E2F8E', green:'#77AC30', cyan:'#4DBEEE', maroon:'#A2142F'};
// series with no visible marks keep a single empty (null) slot so their legend entry is drawn
const toX = a => a.length ? a : [null];
const toY = a => a.length ? a.map(v => Math.pow(10, v)) : [null];
const LW = 1.3;
const LEG_TXT = 20.8;   // legend label size (rows are spaced by the smaller legend font)
const lab = s => '<span style="font-size:' + LEG_TXT + 'px">' + s + '</span>';

function line(name, f, v, color, dash) {
  return {type:'scatter', mode:'lines', name:lab(name), x:toX(f), y:toY(v),
    line:{color:color, width:LW, dash:dash || 'solid'}, hoverinfo:'skip'};
}
function pts(name, f, v, color, symbol, size) {
  return {type:'scatter', mode:'markers', name:lab(name), x:toX(f), y:toY(v),
    marker:{color:color, symbol:symbol, size:size, line:{color:color, width:1.3}}, hoverinfo:'skip'};
}

const traces = [
  line('DARM noise', darmF, darmV, '#FF0000'),
  line('Sum of estimated noises', sumF, sumV, '#000000'),
  line('SUM of ASC estimates', ascF, ascV, C.blue, '7px,5px'),
  line('CHARD P', chardPF, chardPV, C.orange),
  line('CHARD Y', chardYF, chardYV, C.yellow),
  line('DHARD P', dhardPF, dhardPV, C.purple),
  line('DHARD Y', dhardYF, dhardYV, C.green),
  line('MICH P', michPF, michPV, C.cyan),
  line('MICH Y', michYF, michYV, C.maroon),
  pts('PRC2 P', prc2PF, prc2PV, C.blue, 'x-thin-open', 9),
  pts('PRC2 Y', prc2YF, prc2YV, C.orange, 'x-thin-open', 9),
  pts('COSFT P', cosftPF, cosftPV, C.yellow, 'x-thin-open', 9),
  pts('DSOFT P', dsoftPF, dsoftPV, C.purple, 'x-thin-open', 9),
  pts('SRC1 P', src1PF, src1PV, C.green, 'x-thin-open', 9),
  pts('SRC1 Y', src1YF, src1YV, C.cyan, 'square-open', 7),
  pts('SRC2 P', src2PF, src2PV, C.maroon, 'x-thin-open', 9),
  pts('SRC2 Y', src2YF, src2YV, C.blue, 'square-open', 7),
  pts('DC1 P', dc1PF, dc1PV, C.orange, 'asterisk-open', 10),
  pts('DC1 Y', dc1YF, dc1YV, C.yellow, 'asterisk-open', 10),
  pts('DC2 P', dc2PF, dc2PV, C.purple, 'circle-open', 8),
  pts('DC2 Y', dc2YF, dc2YV, C.green, 'circle-open', 8)
];

const axisCommon = {
  type:'log', showline:true, linecolor:'#262626', linewidth:1, mirror:'ticks',
  ticks:'inside', ticklen:20, tickwidth:1, tickcolor:'#262626',
  showgrid:true, gridcolor:'#dedede', gridwidth:1, zeroline:false,
  tickfont:{family:'DejaVu Sans', size:23, color:'#262626'},
  tickmode:'array'
};

const layout = {
  width:2560, height:1356,
  margin:{l:333, r:243, t:102, b:149, pad:0},
  paper_bgcolor:'#ffffff', plot_bgcolor:'#ffffff',
  font:{family:'DejaVu Sans', color:'#262626'},
  title:{text:'<b>ASC noises for GPS start time: 1239035461, duration: 300s</b>',
    font:{family:'DejaVu Sans', size:26, color:'#000000'},
    x:0.5, xref:'paper', xanchor:'center', y:1-79/1356, yref:'container', yanchor:'middle'},
  xaxis:Object.assign({}, axisCommon, {
    range:[Math.log10(7), Math.log10(400)],
    tickvals:xMajor, ticktext:xMajorText, ticklabelstandoff:4,
    minor:{tickmode:'array', tickvals:xMinor, ticks:'inside', ticklen:10, tickcolor:'#262626',
      showgrid:true, gridcolor:'#d4d4d4', griddash:'dot', gridwidth:1}
  }),
  yaxis:Object.assign({}, axisCommon, {
    range:[Math.log10(3e-21), -16],
    tickvals:yMajor, ticktext:yMajorText,
    minor:{tickmode:'array', tickvals:yMinor, ticks:'inside', ticklen:10, tickcolor:'#262626',
      showgrid:true, gridcolor:'#d4d4d4', griddash:'dot', gridwidth:1}
  }),
  showlegend:true,
  legend:{x:(2303-333)/1984, xanchor:'right', y:(1206.8-114)/1105, yanchor:'top',
    bgcolor:'#ffffff', bordercolor:'#262626', borderwidth:1,
    font:{family:'DejaVu Sans', size:17.3, color:'#000000'},
    itemwidth:40, tracegroupgap:0}
};

Plotly.newPlot('plot', traces, layout, {displayModeBar:false, staticPlot:true});
</script>
</body>
</html>
